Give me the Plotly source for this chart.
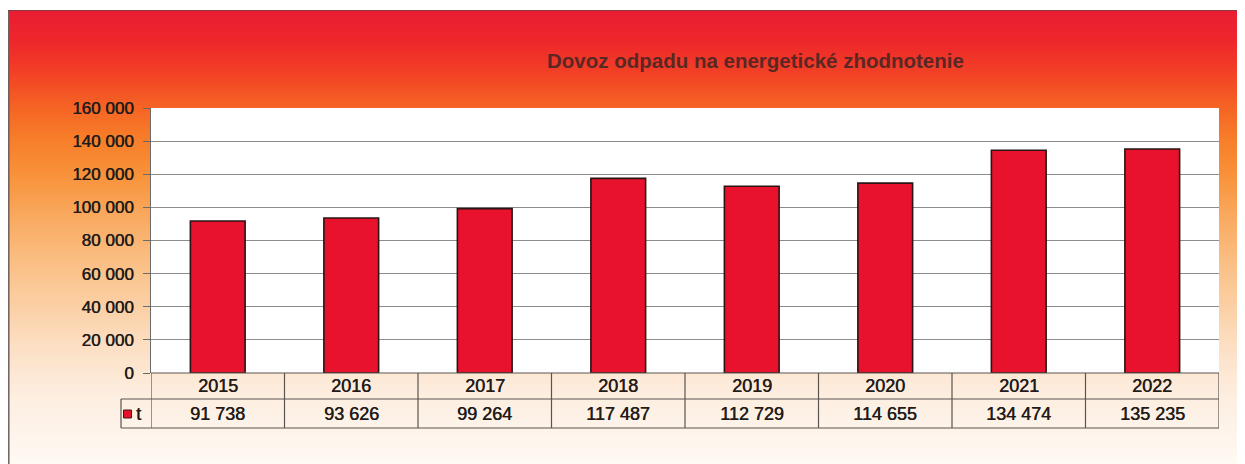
import plotly.graph_objects as go

# ---------------- data ----------------
years = ["2015", "2016", "2017", "2018", "2019", "2020", "2021", "2022"]
values = [91738, 93626, 99264, 117487, 112729, 114655, 134474, 135235]
series_name = "t"
y_tick_vals = [0, 20000, 40000, 60000, 80000, 100000, 120000, 140000, 160000]
y_tick_labels = ["0", "20 000", "40 000", "60 000", "80 000", "100 000",
                 "120 000", "140 000", "160 000"]
title_text = "Dovoz odpadu na energetické zhodnotenie"

# ---------------- geometry (page pixel coords) ----------------
PAGE_W, PAGE_H = 1245, 464
OX, OY = 8, 8                     # default body margin of the page
W, H = PAGE_W - OX, PAGE_H - OY   # figure size
PL, PR, PT, PB = 151, 1219, 108, 373   # plot area in page coords
L, R, T, B = PL - OX, PAGE_W - PR, PT - OY, PAGE_H - PB
PW = PR - PL
PH = PB - PT


def fx(px):
    return (px - PL) / PW


def fy(py):
    return (PB - py) / PH


FONT = "Liberation Sans, Arial, sans-serif"
TXT = "#221b18"
SHADOW = "0.5px 0px 0px #221b18"
BORDER = "#5a5450"

# background gradient (style only)
stops = [
    (8, (232, 28, 50)),
    (40, (238, 38, 44)),
    (70, (242, 62, 38)),
    (105, (245, 98, 36)),
    (140, (247, 126, 42)),
    (175, (248, 146, 58)),
    (215, (249, 168, 94)),
    (260, (250, 190, 130)),
    (305, (251, 207, 164)),
    (350, (252, 224, 198)),
    (395, (253, 238, 224)),
    (464, (254, 249, 243)),
]


def grad(py):
    for (a, ca), (b, cb) in zip(stops[:-1], stops[1:]):
        if a <= py <= b:
            t = (py - a) / (b - a)
            c = [round(ca[i] + (cb[i] - ca[i]) * t) for i in range(3)]
            return "rgb(%d,%d,%d)" % tuple(c)
    return "rgb(%d,%d,%d)" % stops[-1][1]


shapes = []
step = 3
py = 10
while py < PAGE_H:
    shapes.append(dict(type="rect", xref="paper", yref="paper", layer="below",
                       x0=fx(OX), x1=fx(PAGE_W + 2), y0=fy(min(py + step + 0.5, PAGE_H + 2)),
                       y1=fy(py), fillcolor=grad(py + step / 2), line=dict(width=0)))
    py += step

# white plot area
shapes.append(dict(type="rect", xref="paper", yref="paper", layer="below",
                   x0=0, x1=1, y0=0, y1=1, fillcolor="white", line=dict(width=0)))

# outer frame lines
shapes.append(dict(type="line", xref="paper", yref="paper", x0=fx(OX + 0.8), x1=fx(OX + 0.8),
                   y0=fy(10), y1=fy(PAGE_H + 2), line=dict(color="#6e6060", width=1.5)))
shapes.append(dict(type="line", xref="paper", yref="paper", x0=fx(OX), x1=fx(PAGE_W + 2),
                   y0=fy(10.5), y1=fy(10.5), line=dict(color="#8a3a3a", width=1.2)))

# data table
n = len(years)
row1_top, row1_bot, row2_bot = 373, 399, 428
legend_left = 121
shapes.append(dict(type="line", xref="x", yref="paper", x0=-0.5, x1=n - 0.5,
                   y0=fy(row1_top), y1=fy(row1_top), line=dict(color=BORDER, width=1.2)))
for yy in (row1_bot, row2_bot):
    shapes.append(dict(type="line", xref="paper", yref="paper", x0=fx(legend_left), x1=1,
                       y0=fy(yy), y1=fy(yy), line=dict(color=BORDER, width=1.2)))
for i in range(n + 1):
    shapes.append(dict(type="line", xref="x", yref="paper", x0=i - 0.5, x1=i - 0.5,
                       y0=fy(row1_top), y1=fy(row2_bot), line=dict(color=BORDER, width=1.2)))
shapes.append(dict(type="line", xref="paper", yref="paper", x0=fx(legend_left), x1=fx(legend_left),
                   y0=fy(row1_bot), y1=fy(row2_bot), line=dict(color=BORDER, width=1.2)))
# legend key
shapes.append(dict(type="rect", xref="paper", yref="paper", x0=fx(123.5), x1=fx(131.5),
                   y0=fy(418), y1=fy(410), fillcolor="#e5122c",
                   line=dict(color="#3a1a1a", width=1)))

tfont = dict(family=FONT, size=18, color=TXT, shadow=SHADOW)
annotations = []
for i, (yr, v) in enumerate(zip(years, values)):
    annotations.append(dict(x=i, y=fy(386), xref="x", yref="paper", text=yr,
                            showarrow=False, xanchor="center", yanchor="middle", font=tfont))
    annotations.append(dict(x=i, y=fy(414), xref="x", yref="paper",
                            text=f"{v:,}".replace(",", " "),
                            showarrow=False, xanchor="center", yanchor="middle", font=tfont))
annotations.append(dict(x=fx(134), y=fy(414), xref="paper", yref="paper", text=series_name,
                        showarrow=False, xanchor="left", yanchor="middle", font=tfont))
annotations.append(dict(x=fx(755), y=fy(60), xref="paper", yref="paper",
                        text="<b>" + title_text + "</b>",
                        showarrow=False, xanchor="center", yanchor="middle",
                        font=dict(family=FONT, size=20.5, color="#5a2824")))

fig = go.Figure()
fig.add_trace(go.Bar(x=years, y=values, name=series_name, width=0.41,
                     marker=dict(color="#e8122c", line=dict(color="#2a1414", width=1.6)),
                     hoverinfo="x+y"))

fig.update_layout(
    width=W, height=H,
    margin=dict(l=L, r=R, t=T, b=B, pad=0),
    paper_bgcolor="white",
    plot_bgcolor="rgba(0,0,0,0)",
    showlegend=False,
    shapes=shapes,
    annotations=annotations,
    xaxis=dict(type="category", range=[-0.5, n - 0.5], showticklabels=False,
               showgrid=False, ticks="", showline=False, zeroline=False, fixedrange=True),
    yaxis=dict(range=[0, 160000], tickmode="array", tickvals=y_tick_vals,
               ticktext=y_tick_labels, showgrid=True, gridcolor="#8c8c8c", gridwidth=1,
               ticks="outside", ticklen=7, tickcolor="#6a6a6a", tickwidth=1,
               showline=True, linecolor="#6a6a6a", linewidth=1, zeroline=False,
               ticklabelstandoff=6,
               tickfont=dict(family=FONT, size=17, color=TXT, shadow=SHADOW), fixedrange=True),
)

fig.write_html("out.html")
